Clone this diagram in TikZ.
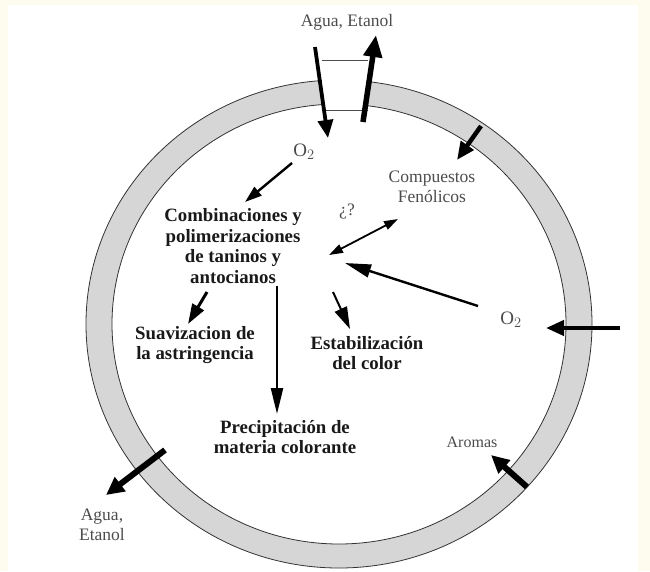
\documentclass[tikz,border=0pt]{standalone}
\usepackage{fontspec}
\setmainfont{Liberation Serif}
\usetikzlibrary{arrows.meta}
\definecolor{paper}{RGB}{253,252,238}
\begin{document}
\begin{tikzpicture}[x=1pt,y=-1pt]
	% styles
	\tikzstyle{ring} += [fill=black!16,draw=black!80,line width=0.8pt,even odd rule]
	\tikzstyle{bold} += [font=\bfseries\fontsize{18.8}{20.5}\selectfont,align=center,text=black!90,inner sep=0pt]
	\tikzstyle{soft} += [font=\fontsize{17.5}{19.5}\selectfont,align=center,text=black!70,inner sep=0pt]
	\tikzstyle{fat} += [line width=4.5pt,-{Triangle[length=18pt,width=15pt]}]
	\tikzstyle{thin} += [line width=2.4pt,-{Triangle[length=17pt,width=11pt]}]
	
	% bounding box
	\fill[paper] (0,0) rectangle (650,571);
	\fill[white] (8,5) rectangle (638,571);
	
	% barrel wall
	\path[ring] (339,324) ellipse [x radius=253pt,y radius=244pt]
	(339,324) ellipse [x radius=227pt,y radius=220pt];
	
	% bung hole
	\fill[white] (322,58) rectangle (368,111);
	\draw[black!70,line width=0.8pt] (322,60) -- (368,60);
	\draw[black!70,line width=0.8pt] (322,110) -- (368,110);
	
	% labels
	\node[soft] (aguaTop) at (347,22) {Agua, Etanol};
	\node[soft] (fenol) at (432,187) {Compuestos\\Fenólicos};
	\node[soft,font=\fontsize{19}{20}\selectfont] (oxTop) at (304,152) {O$_2$};
	\node[soft,font=\fontsize{19}{20}\selectfont] (oxRight) at (511,320) {O$_2$};
	\node[soft] (duda) at (347,212) {¿?};
	\node[soft,font=\fontsize{16}{18}\selectfont] (aromas) at (472,442) {Aromas};
	\node[soft] (aguaLow) at (102,525) {Agua,\\Etanol};
	\node[bold] (combin) at (233,246) {Combinaciones y\\polimerizaciones\\de taninos y\\antocianos};
	\node[bold] (suav) at (195,345) {Suavizacion de\\la astringencia};
	\node[bold] (estab) at (367,353) {Estabilización\\del color};
	\node[bold] (precip) at (285,437) {Precipitación de\\materia colorante};
	
	% arrow ends
	\coordinate (inA) at (315,47);
	\coordinate (inB) at (328,138);
	\coordinate (outA) at (363,122);
	\coordinate (outB) at (376,35);
	\coordinate (fenA) at (481,126);
	\coordinate (fenB) at (457,160);
	\coordinate (oxA) at (292,163);
	\coordinate (oxB) at (245,202);
	\coordinate (dobA) at (329,255);
	\coordinate (dobB) at (398,219);
	\coordinate (lngA) at (478,306);
	\coordinate (lngB) at (345,263);
	\coordinate (rgtA) at (620,328);
	\coordinate (rgtB) at (546,328);
	\coordinate (suvA) at (207,292);
	\coordinate (suvB) at (188,324);
	\coordinate (preA) at (277,286);
	\coordinate (preB) at (277,414);
	\coordinate (estA) at (333,292);
	\coordinate (estB) at (350,329);
	\coordinate (lowA) at (165,450);
	\coordinate (lowB) at (106,495);
	\coordinate (aroA) at (527,487);
	\coordinate (aroB) at (491,455);
	
	% arrows
	\draw[fat,line width=3.8pt] (inA) -- (inB);
	\draw[fat,line width=5.5pt,-{Triangle[length=22pt,width=18pt]}] (outA) -- (outB);
	\draw[fat] (fenA) -- (fenB);
	\draw[thin] (oxA) -- (oxB);
	\draw[thin,line width=1.8pt,{Triangle[length=14pt,width=9pt]}-{Triangle[length=14pt,width=9pt]}] (dobA) -- (dobB);
	\draw[thin,-{Triangle[length=26pt,width=13pt]}] (lngA) -- (lngB);
	\draw[fat,line width=4pt] (rgtA) -- (rgtB);
	\draw[thin,line width=3pt,-{Triangle[length=20pt,width=13pt]}] (suvA) -- (suvB);
	\draw[thin,-{Triangle[length=26pt,width=12pt]}] (preA) -- (preB);
	\draw[thin,line width=2pt,-{Triangle[length=22pt,width=13pt]}] (estA) -- (estB);
	\draw[fat,line width=6pt,-{Triangle[length=18pt,width=17pt]}] (lowA) -- (lowB);
	\draw[fat,line width=6pt,-{Triangle[length=18pt,width=17pt]}] (aroA) -- (aroB);
\end{tikzpicture}
\end{document}
